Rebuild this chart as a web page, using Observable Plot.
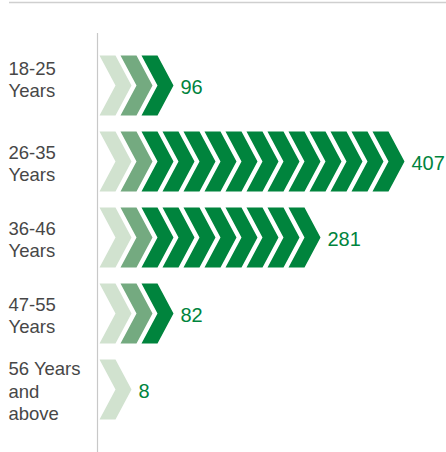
<!DOCTYPE html>
<html>
<head>
<meta charset="utf-8">
<script src="https://cdn.jsdelivr.net/npm/d3@7"></script>
<script src="https://cdn.jsdelivr.net/npm/@observablehq/plot@0.6"></script>
<style>
  html, body { margin: 0; padding: 0; background: #fff; }
  #chart { width: 446px; height: 452px; }
</style>
</head>
<body>
<div id="chart"></div>
<script>
// Data
const categories = ["18-25\nYears", "26-35\nYears", "36-46\nYears", "47-55\nYears", "56 Years\nand\nabove"];
const values = [96, 407, 281, 82, 8];
const chevronCounts = [3, 14, 10, 3, 1];
const shades = ["light", "mid", "dark"];
const shadeColors = ["#d1e2cf", "#74aa80", "#00843d"];

const rows = categories.map((c, k) => ({cat: c, value: values[k], count: chevronCounts[k]}));
const chevrons = rows.flatMap(r => d3.range(r.count).map(i => ({cat: r.cat, i, shade: shades[Math.min(i, 2)]})));

// chevron symbol: height 2r, pointing right
const chevron = {
  draw(ctx, size) {
    const r = Math.sqrt(size / Math.PI);
    const w = r * 16 / 30;
    ctx.moveTo(-w, -r);
    ctx.lineTo(0, -r);
    ctx.lineTo(w, 0);
    ctx.lineTo(0, r);
    ctx.lineTo(-w, r);
    ctx.lineTo(0, 0);
    ctx.closePath();
  }
};

const W = 446, H = 452, ML = 99, step = 21;

const topLine = (index, scales, values, dims) =>
  d3.create("svg:line")
    .attr("x1", 9).attr("x2", dims.width)
    .attr("y1", 2.5).attr("y2", 2.5)
    .attr("stroke", "#cfcfcf").attr("stroke-width", 1.5)
    .node();

const labelStyle = {tickSize: 0, label: null, textAnchor: "start", dx: -82, fontSize: 18.5, lineHeight: 1.2, fill: "#474747", tickFormat: d => d};

const chart = Plot.plot({
  width: W,
  height: H,
  marginLeft: ML,
  marginRight: 0,
  marginTop: 47,
  marginBottom: 25,
  style: {fontFamily: "'Liberation Sans', Arial, Helvetica, sans-serif", background: "#fff"},
  x: {domain: [0, (W - ML) / step], axis: null},
  y: {type: "band", domain: categories, padding: 0, axis: null, label: null},
  color: {domain: shades, range: shadeColors},
  marks: [
    topLine,
    Plot.ruleX([0], {stroke: "#c8c8c8", strokeWidth: 1.2, dx: -2, insetTop: -14, insetBottom: -26}),
    Plot.dot(chevrons, {x: "i", y: "cat", dx: 16, r: 30, symbol: chevron, fill: "shade", stroke: "none"}),
    Plot.text(rows, {x: "count", y: "cat", text: d => String(d.value), dx: 18, dy: 2, textAnchor: "start", fontSize: 20, fill: "#00843d"}),
    Plot.axisY({...labelStyle, ticks: categories.slice(0, 1), dy: -7}),
    Plot.axisY({...labelStyle, ticks: categories.slice(1), dy: 1})
  ]
});
document.getElementById("chart").append(chart);
</script>
</body>
</html>
